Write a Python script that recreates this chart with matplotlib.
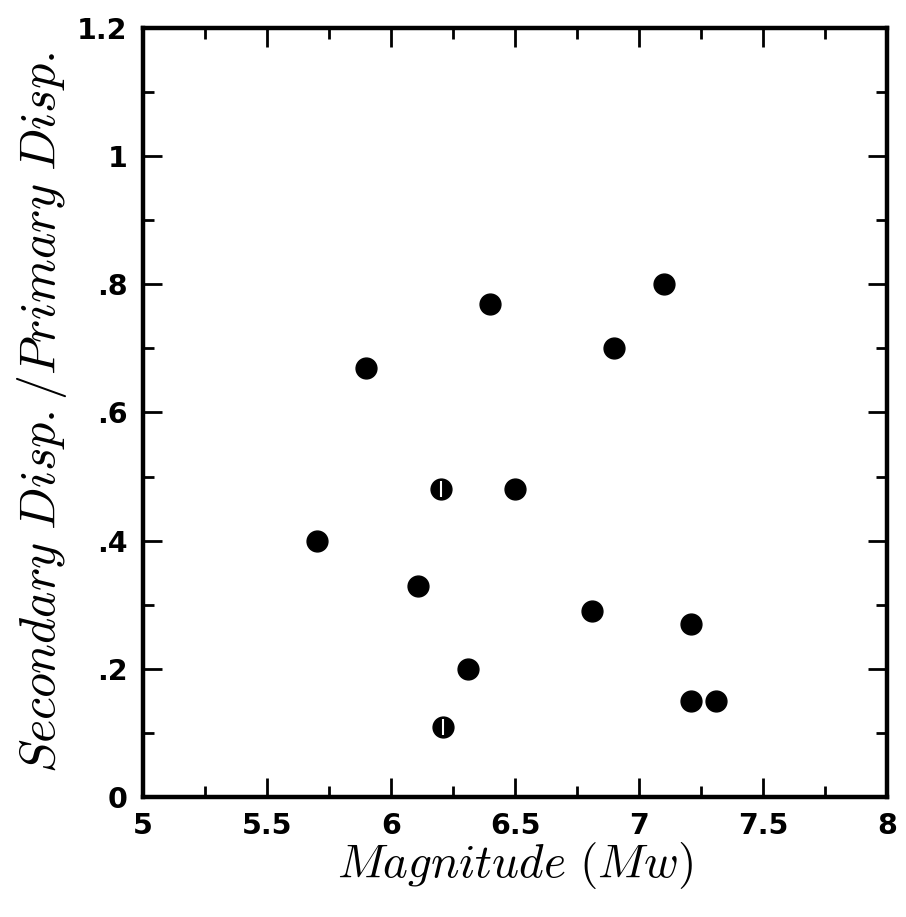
import matplotlib
matplotlib.use('Agg')
import matplotlib.pyplot as plt
from matplotlib.ticker import MultipleLocator, FuncFormatter

plt.rcParams['mathtext.fontset'] = 'cm'
plt.rcParams['font.family'] = 'DejaVu Sans'

# full dots
mag = [5.7, 5.9, 6.11, 6.31, 6.4, 6.5, 6.81, 6.9, 7.1, 7.21, 7.21, 7.31]
ratio = [0.40, 0.67, 0.33, 0.20, 0.77, 0.48, 0.29, 0.70, 0.80, 0.27, 0.15, 0.15]
# dots with a white bar through them
mag_split = [6.2, 6.21]
ratio_split = [0.48, 0.11]

fig = plt.figure(figsize=(9.06, 9.17), dpi=100)
ax = fig.add_axes([143/906, 1 - 797/917, 744/906, 769/917])

ax.plot(mag, ratio, 'o', color='black', ms=15)
ax.plot(mag_split, ratio_split, 'o', color='black', ms=15)
ax.plot(mag_split, ratio_split, '|', color='white', ms=12, mew=1.5)

ax.set_xlim(5, 8)
ax.set_ylim(0, 1.2)
ax.xaxis.set_major_locator(MultipleLocator(0.5))
ax.xaxis.set_minor_locator(MultipleLocator(0.25))
ax.yaxis.set_major_locator(MultipleLocator(0.2))
ax.yaxis.set_minor_locator(MultipleLocator(0.1))

def xfmt(v, pos):
    return '%g' % round(v, 2)

def yfmt(v, pos):
    s = '%g' % round(v, 2)
    if s.startswith('0.'):
        s = s[1:]
    return s

ax.xaxis.set_major_formatter(FuncFormatter(xfmt))
ax.yaxis.set_major_formatter(FuncFormatter(yfmt))

ax.tick_params(which='both', direction='in', top=True, right=True, width=2,
               labelsize=20.5)
ax.tick_params(which='major', length=14, pad=11)
ax.tick_params(which='minor', length=8)
for lbl in ax.get_xticklabels() + ax.get_yticklabels():
    lbl.set_fontweight('semibold')
for sp in ax.spines.values():
    sp.set_linewidth(3.2)

ax.set_xlabel(r'$Magnitude\ (Mw)$', fontsize=34, labelpad=0)
ax.set_ylabel(r'$Secondary\ Disp./Primary\ Disp.$', fontsize=36, labelpad=6)

fig.savefig('out.png', dpi=100)
